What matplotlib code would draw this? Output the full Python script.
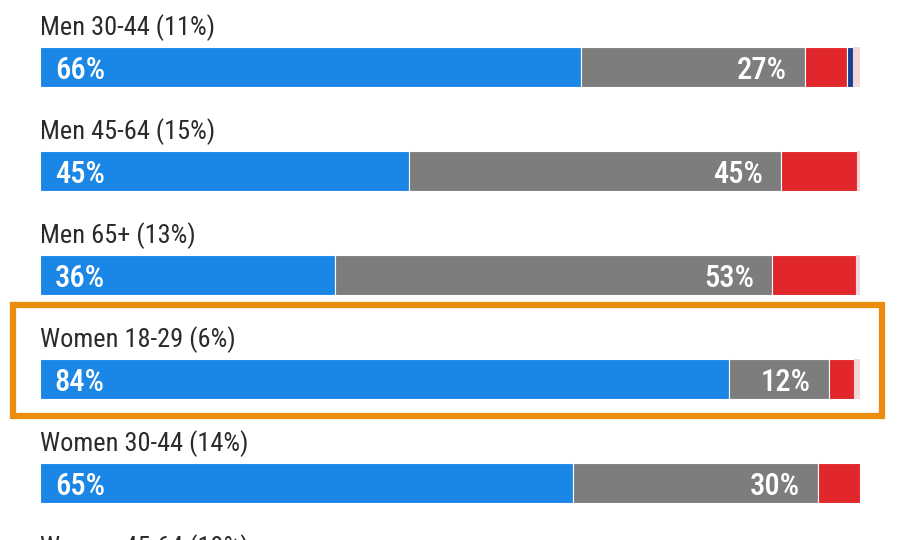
import matplotlib
matplotlib.use("Agg")
import matplotlib.pyplot as plt
from matplotlib.patches import Rectangle
from matplotlib import font_manager

# rows as they appear in the crop (last one is cut off at the bottom)
groups = ["Men 30-44 (11%)", "Men 45-64 (15%)", "Men 65+ (13%)",
          "Women 18-29 (6%)", "Women 30-44 (14%)", "Women 45-64 (19%)"]
dem = [66, 45, 36, 84, 65, 0]
other = [27.3, 45.4, 53.3, 12.2, 29.9, 0]
rep = [5.1, 9.2, 10.2, 3.1, 5.1, 0]
third = [0.8, 0, 0, 0, 0, 0]
show_bar = [True, True, True, True, True, False]
highlight = "Women 18-29 (6%)"

c_dem = "#1a86e6"
c_other = "#7d7d7d"
c_rep = "#e1262c"
c_third = "#183f8f"
c_rest = "#f3d6d8"

names = {f.name for f in font_manager.fontManager.ttflist}
font = "Roboto"
for cand in ["Roboto Condensed", "Liberation Sans Narrow", "Open Sans Condensed", "Roboto"]:
    if cand in names:
        font = cand
        break
plt.rcParams["font.family"] = [font, "DejaVu Sans"]

fig = plt.figure(figsize=(9, 5.4), dpi=100)
# x axis: 0..100 percent over the bar width, y: rows
row = 104.0
top = 67.0
ax = fig.add_axes([40 / 900, 0, 820 / 900, 1])
ax.set_xlim(0, 100)
ax.set_ylim((540 - top) / row, -top / row)
ax.axis("off")

bh = 40 / row
for i, g in enumerate(groups):
    ax.text(0, i - 0.31, g, fontsize=19, color="#2a2a2a", va="baseline", ha="left")
    if not show_bar[i]:
        continue
    left = 0
    for val, col in zip([dem[i], other[i], rep[i], third[i]],
                        [c_dem, c_other, c_rep, c_third]):
        if val <= 0:
            continue
        ax.barh(i, val, left=left, height=bh, color=col, edgecolor="white", linewidth=0.8)
        left += val
    if left < 100:
        ax.barh(i, 100 - left, left=left, height=bh, color=c_rest, linewidth=0)
    ax.text(1.8, i + 0.12, f"{dem[i]:.0f}%", color="white", fontsize=22,
            fontweight="medium", va="baseline", ha="left")
    ax.text(dem[i] + other[i] - 2.2, i + 0.12, f"{other[i]:.0f}%", color="white",
            fontsize=22, fontweight="medium", va="baseline", ha="right")

# orange box around the highlighted group
k = groups.index(highlight)
ax.add_patch(Rectangle((-27 / 8.2, k - 0.71), 869 / 8.2, 1.07,
                       fill=False, edgecolor="#ea8d0c", linewidth=4.5,
                       clip_on=False))

fig.savefig("out.png", dpi=100)
